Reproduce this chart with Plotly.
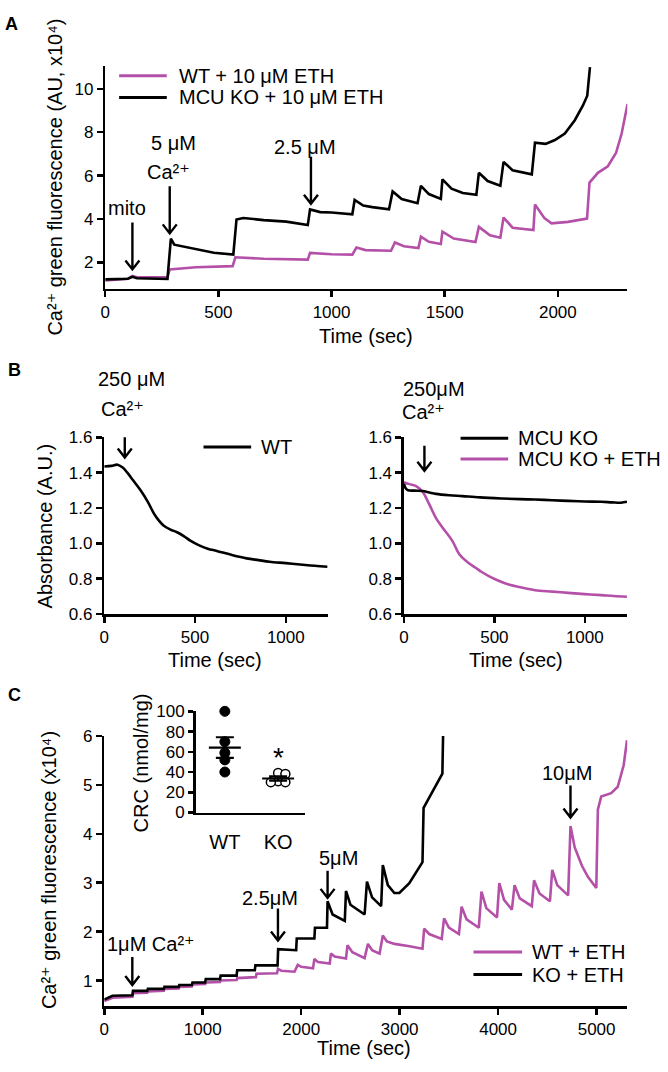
import plotly.graph_objects as go

W, H = 668, 1072
PINK = "#B450A8"
BLACK = "black"
FONT = "Liberation Sans, Arial, DejaVu Sans, sans-serif"

# ---------------- Panel A : Ca2+ green fluorescence (AU, x10^4) ----------------
a_time_ko = [0, 100, 120, 140, 275, 290, 305, 400, 480, 566, 580, 610, 700, 800, 895,
             905, 950, 1000, 1092, 1102, 1140, 1180, 1254, 1270, 1310, 1380, 1395, 1430,
             1483, 1490, 1530, 1580, 1640, 1651, 1690, 1746, 1760, 1800, 1885, 1899, 1946,
             1987, 2031, 2075, 2111, 2130, 2142]
a_ko = [1.22, 1.25, 1.34, 1.27, 1.24, 3.10, 2.82, 2.60, 2.45, 2.36, 3.98, 4.05, 3.95, 3.88,
        3.72, 4.44, 4.32, 4.30, 4.22, 4.88, 4.62, 4.55, 4.45, 5.27, 4.92, 4.73, 5.53, 5.15,
        4.93, 5.83, 5.40, 5.20, 5.12, 6.13, 5.75, 5.53, 6.63, 6.25, 6.06, 7.52, 7.46, 7.64,
        7.94, 8.55, 9.23, 9.68, 11.0]
a_time_wt = [0, 100, 120, 140, 275, 285, 400, 563, 575, 700, 895, 905, 1000, 1092, 1110,
             1150, 1263, 1280, 1320, 1384, 1395, 1430, 1483, 1490, 1540, 1636, 1651, 1700,
             1746, 1760, 1800, 1892, 1899, 1940, 1972, 2045, 2129, 2140, 2177, 2221, 2257,
             2282, 2308]
a_wt = [1.17, 1.25, 1.38, 1.32, 1.32, 1.68, 1.78, 1.83, 2.24, 2.17, 2.13, 2.44, 2.38, 2.36,
        2.69, 2.57, 2.54, 2.92, 2.75, 2.66, 3.19, 2.95, 2.85, 3.42, 3.10, 2.94, 3.64, 3.25,
        3.14, 4.07, 3.60, 3.49, 4.67, 4.05, 3.80, 3.87, 4.02, 5.68, 6.13, 6.43, 7.04, 7.94,
        9.30]

# ---------------- Panel B : Absorbance (A.U.) ----------------
b_time_wt = [0, 40, 73, 100, 127, 160, 200, 240, 273, 300, 328, 365, 401, 440, 474, 520,
             570, 620, 700, 784, 850, 911, 1000, 1093, 1160, 1230]
b_wt = [1.435, 1.438, 1.445, 1.43, 1.40, 1.355, 1.30, 1.235, 1.17, 1.13, 1.10, 1.078, 1.063,
        1.04, 1.015, 0.99, 0.97, 0.957, 0.935, 0.915, 0.905, 0.896, 0.888, 0.879, 0.873, 0.868]
b_time_ko = [0, 10, 22, 60, 104, 140, 177, 250, 323, 420, 542, 640, 725, 820, 908, 1000,
             1091, 1150, 1200, 1233]
b_ko = [1.337, 1.31, 1.30, 1.298, 1.296, 1.288, 1.28, 1.272, 1.267, 1.26, 1.254, 1.25, 1.248,
        1.244, 1.24, 1.237, 1.235, 1.232, 1.23, 1.235]
b_time_ko_eth = [0, 30, 67, 104, 140, 177, 220, 268, 305, 350, 396, 430, 469, 520, 579, 650,
                 725, 820, 908, 1000, 1091, 1160, 1233]
b_ko_eth = [1.346, 1.335, 1.324, 1.29, 1.22, 1.143, 1.08, 1.013, 0.94, 0.895, 0.862, 0.838,
            0.815, 0.79, 0.767, 0.75, 0.735, 0.727, 0.72, 0.713, 0.707, 0.702, 0.698]

# ---------------- Panel C : Ca2+ green fluorescence (x10^4) ----------------
c_time_ko = [0, 84, 286, 292, 437, 443, 605, 611, 756, 762, 890, 896, 1025, 1031, 1176, 1182,
             1344, 1350, 1529, 1535, 1760, 1766, 1949, 1955, 2134, 2140, 2262, 2268, 2319,
             2443, 2455, 2500, 2644, 2668, 2720, 2812, 2829, 2880, 2946, 2997, 3098, 3182,
             3232, 3243, 3299, 3367, 3434, 3441]
c_ko = [0.61, 0.69, 0.70, 0.79, 0.79, 0.83, 0.83, 0.87, 0.87, 0.91, 0.91, 0.96, 0.96, 1.03,
        1.03, 1.10, 1.10, 1.21, 1.21, 1.31, 1.31, 1.64, 1.62, 1.86, 1.86, 2.08, 2.08, 2.62,
        2.35, 2.22, 2.83, 2.55, 2.35, 3.02, 2.70, 2.52, 3.36, 2.95, 2.79, 2.79, 2.99, 3.26,
        3.42, 4.53, 4.73, 5.00, 5.23, 6.00]
c_time_wt = [0, 84, 286, 292, 437, 443, 605, 611, 756, 762, 890, 896, 1025, 1031, 1176, 1182,
             1344, 1350, 1540, 1546, 1755, 1764, 1800, 1932, 1965, 2000, 2120, 2134, 2170,
             2290, 2302, 2340, 2455, 2470, 2520, 2644, 2678, 2720, 2796, 2829, 2870, 2947,
             3100, 3232, 3249, 3300, 3427, 3451, 3500, 3602, 3629, 3680, 3804, 3831, 3880,
             3989, 4012, 4060, 4140, 4167, 4220, 4342, 4365, 4420, 4526, 4550, 4600, 4711,
             4735, 4778, 4850, 4912, 4997, 5013, 5047, 5148, 5215, 5275, 5309]
c_wt = [0.58, 0.65, 0.67, 0.74, 0.75, 0.78, 0.79, 0.83, 0.84, 0.87, 0.88, 0.92, 0.93, 0.96,
        0.97, 1.00, 1.01, 1.05, 1.07, 1.14, 1.15, 1.24, 1.20, 1.18, 1.32, 1.28, 1.25, 1.44,
        1.38, 1.35, 1.55, 1.49, 1.45, 1.72, 1.58, 1.46, 1.75, 1.62, 1.55, 1.92, 1.80, 1.75,
        1.70, 1.65, 2.06, 1.95, 1.85, 2.27, 2.08, 1.95, 2.51, 2.25, 2.08, 2.82, 2.48, 2.29,
        2.99, 2.65, 2.45, 2.95, 2.68, 2.52, 3.05, 2.78, 2.62, 3.26, 2.95, 2.74, 4.16, 3.72,
        3.35, 3.12, 2.89, 4.49, 4.76, 4.83, 4.96, 5.40, 5.91]

# ---------------- Panel C inset : CRC (nmol/mg) ----------------
crc_groups = ["WT", "KO"]
crc_wt = [100, 70, 59, 52, 40]
crc_ko = [39, 38, 31, 30, 30]

# ---------------- Annotation events (time of addition) ----------------
a_events = [120, 285, 909]
b_event = 113
c_events = [285, 1764, 2268, 4735]

# =====================================================================
fig = go.Figure()


def line(x, y, color, xa, ya, name, shape="linear"):
    fig.add_trace(go.Scatter(x=x, y=y, mode="lines", name=name, xaxis=xa, yaxis=ya,
                             line=dict(color=color, width=2.6, shape=shape),
                             showlegend=False, hoverinfo="skip"))


line(a_time_wt, a_wt, PINK, "x", "y", "WT + 10 μM ETH")
line(a_time_ko, a_ko, BLACK, "x", "y", "MCU KO + 10 μM ETH")
line(b_time_wt, b_wt, BLACK, "x2", "y2", "WT", "spline")
line(b_time_ko_eth, b_ko_eth, PINK, "x3", "y3", "MCU KO + ETH", "spline")
line(b_time_ko, b_ko, BLACK, "x3", "y3", "MCU KO", "spline")
line(c_time_wt, c_wt, PINK, "x4", "y4", "WT + ETH")
line(c_time_ko, c_ko, BLACK, "x4", "y4", "KO + ETH")

# ---- inset dot plot ----
X_PX = 55.0      # px per x unit in the inset
Y_PX = 1.033     # px per y unit in the inset
DIAM = 7.5       # marker spacing in px


def swarm(vals, center):
    placed = []
    xs = []
    step = DIAM / X_PX
    for v in vals:
        cands = [0]
        for i in range(1, 6):
            cands += [i * step, -i * step]
        for off in cands:
            ok = True
            for (px, pv) in placed:
                dx = (off - px) * X_PX
                dy = (v - pv) * Y_PX
                if (dx * dx + dy * dy) ** 0.5 < DIAM - 0.5:
                    ok = False
                    break
            if ok:
                break
        placed.append((off, v))
        xs.append(center + off)
    return xs


def mean_sem(vals):
    n = len(vals)
    m = sum(vals) / n
    sd = (sum((v - m) ** 2 for v in vals) / (n - 1)) ** 0.5
    return m, sd / n ** 0.5


wt_x = [1] * len(crc_wt)
ko_x = swarm(crc_ko, 2)
fig.add_trace(go.Scatter(x=wt_x, y=crc_wt, mode="markers", xaxis="x5", yaxis="y5",
                         marker=dict(size=10, color="black", line=dict(color="black", width=1)),
                         cliponaxis=False, showlegend=False, name="WT"))
fig.add_trace(go.Scatter(x=ko_x, y=crc_ko, mode="markers", xaxis="x5", yaxis="y5",
                         marker=dict(size=9, color="white", line=dict(color="black", width=1.5)),
                         cliponaxis=False, showlegend=False, name="KO"))
for c, vals in ((1, crc_wt), (2, crc_ko)):
    m, s = mean_sem(vals)
    fig.add_trace(go.Scatter(x=[c - 0.3, c + 0.3], y=[m, m], mode="lines", xaxis="x5",
                             yaxis="y5", line=dict(color="black", width=2.2),
                             showlegend=False, hoverinfo="skip"))
    fig.add_trace(go.Scatter(x=[c], y=[m], mode="markers", xaxis="x5", yaxis="y5",
                             marker=dict(size=1, color="rgba(0,0,0,0)"),
                             error_y=dict(type="data", array=[s], visible=True, color="black",
                                          thickness=2.2, width=9),
                             showlegend=False, hoverinfo="skip"))


# =====================================================================
def dom_x(a, b):
    return [a / W, b / W]


def dom_y(top, bottom):
    return [1 - bottom / H, 1 - top / H]


def ax(**kw):
    d = dict(showline=True, linecolor="black", linewidth=2.5, ticks="outside", ticklen=6,
             tickwidth=2.5, tickcolor="black", showgrid=False, zeroline=False,
             tickfont=dict(family=FONT, size=17, color="black"), fixedrange=True)
    d.update(kw)
    return d


fig.update_layout(
    width=W, height=H, margin=dict(l=0, r=0, t=0, b=0),
    paper_bgcolor="white", plot_bgcolor="rgba(0,0,0,0)", showlegend=False,
    font=dict(family=FONT, color="black"),
    xaxis=ax(domain=dom_x(101, 627), range=[0, 2307], tickvals=[0, 500, 1000, 1500, 2000],
             anchor="y"),
    yaxis=ax(domain=dom_y(58, 285), range=[0.78, 11.05], tickvals=[2, 4, 6, 8, 10],
             anchor="x"),
    xaxis2=ax(domain=dom_x(100, 325), range=[0, 1230], tickvals=[0, 500, 1000], anchor="y2"),
    yaxis2=ax(domain=dom_y(436, 616), range=[0.6, 1.6],
              tickvals=[0.6, 0.8, 1.0, 1.2, 1.4, 1.6], tickformat=".1f", anchor="x2"),
    xaxis3=ax(domain=dom_x(402, 627), range=[0, 1235], tickvals=[0, 500, 1000], anchor="y3"),
    yaxis3=ax(domain=dom_y(436, 616), range=[0.6, 1.6],
              tickvals=[0.6, 0.8, 1.0, 1.2, 1.4, 1.6], tickformat=".1f", anchor="x3"),
    xaxis4=ax(domain=dom_x(100, 627), range=[0, 5312],
              tickvals=[0, 1000, 2000, 3000, 4000, 5000], anchor="y4"),
    yaxis4=ax(domain=dom_y(740, 1015), range=[0.48, 6], tickvals=[1, 2, 3, 4, 5, 6],
              anchor="x4"),
    xaxis5=ax(domain=dom_x(192, 302), range=[0.45, 2.5], tickvals=[1, 2],
              ticktext=crc_groups, tickcolor="rgba(0,0,0,0)", ticklen=10,
              tickfont=dict(family=FONT, size=20, color="black"), anchor="y5"),
    yaxis5=ax(domain=dom_y(715, 818), range=[0, 100], tickvals=[0, 20, 40, 60, 80, 100],
              ticklen=5, anchor="x5"),
)


# =====================================================================
def P(x, y):
    return x / W, 1 - y / H


def text(x, y, s, size=20, xanchor="center", angle=0, bold=False):
    px, py = P(x, y)
    if bold:
        s = "<b>" + s + "</b>"
    fig.add_annotation(x=px, y=py, xref="paper", yref="paper", text=s, showarrow=False,
                       xanchor=xanchor, yanchor="middle", textangle=angle,
                       font=dict(family=FONT, size=size, color="black"))


def arrow(xr, yr, x, y, length):
    # downward arrow whose tip sits at data point (x, y); sizes in pixels
    hw, hl = 7, 9
    path = f"M0,0 L0,{length} M{-hw},{hl} L0,0 L{hw},{hl}"
    fig.add_shape(type="path", xref=xr, yref=yr, xsizemode="pixel", ysizemode="pixel",
                  xanchor=x, yanchor=y, path=path,
                  line=dict(color="black", width=2.4), fillcolor="rgba(0,0,0,0)")


def legend_line(x0, x1, y, color):
    px0, py = P(x0, y)
    px1, _ = P(x1, y)
    fig.add_shape(type="line", xref="paper", yref="paper", x0=px0, x1=px1, y0=py, y1=py,
                  line=dict(color=color, width=3))


CA = "Ca²⁺"

# Panel A
text(7, 15, "A", size=18, bold=True)
text(50, 171, CA + " green fluorescence (AU, x10⁴)", angle=-90)
text(364, 333, "Time (sec)")
legend_line(115, 163, 68, PINK)
legend_line(115, 163, 90, BLACK)
text(173, 68, "WT + 10 μM ETH", xanchor="left")
text(173, 90, "MCU KO + 10 μM ETH", xanchor="left")
text(123, 203, "mito")
text(170, 136, "5 μM")
text(165, 166, CA)
text(302, 140, "2.5 μM")
arrow("x", "y", a_events[0], 1.68, 47)
arrow("x", "y", a_events[1], 3.34, 47)
arrow("x", "y", a_events[2], 4.70, 47)

# Panel B
text(10, 368, "B", size=18, bold=True)
text(40, 526, "Absorbance (A.U.)", angle=-90)
text(212, 663, "Time (sec)")
text(515, 663, "Time (sec)")
text(127, 377, "250 μM")
text(118, 407, CA)
text(432, 387, "250μM")
text(422, 410, CA)
arrow("x2", "y2", b_event, 1.485, 27)
arrow("x3", "y3", b_event, 1.411, 25)
legend_line(200, 248, 446, BLACK)
text(256, 446, "WT", xanchor="left")
legend_line(459, 507, 437, BLACK)
legend_line(459, 507, 458, PINK)
text(515, 437, "MCU KO", xanchor="left")
text(515, 458, "MCU KO + ETH", xanchor="left")

# Panel C
text(10, 698, "C", size=18, bold=True)
text(45, 877, CA + " green fluorescence (x10⁴)", angle=-90)
text(362, 1058, "Time (sec)")
text(147, 952, "1μM " + CA)
text(267, 905, "2.5μM")
text(336, 864, "5μM")
text(566, 778, "10μM")
arrow("x4", "y4", c_events[0], 0.91, 28)
arrow("x4", "y4", c_events[1], 1.82, 32)
arrow("x4", "y4", c_events[2], 2.69, 27)
arrow("x4", "y4", c_events[3], 4.33, 32)
legend_line(472, 521, 960, PINK)
legend_line(472, 521, 983, BLACK)
text(529, 960, "WT + ETH", xanchor="left")
text(529, 983, "KO + ETH", xanchor="left")

# Inset
text(137, 767, "CRC (nmol/mg)", angle=-90)
fig.add_annotation(x=2, y=max(crc_ko) + 15, xref="x5", yref="y5", text="*", showarrow=False,
                   font=dict(family=FONT, size=28, color="black"))

fig.write_html(
    "out.html",
    config={"displayModeBar": False, "staticPlot": True},
    post_script=("document.body.style.margin='0px';document.body.style.padding='0px';"
                 "document.body.style.overflow='hidden';"),
)
